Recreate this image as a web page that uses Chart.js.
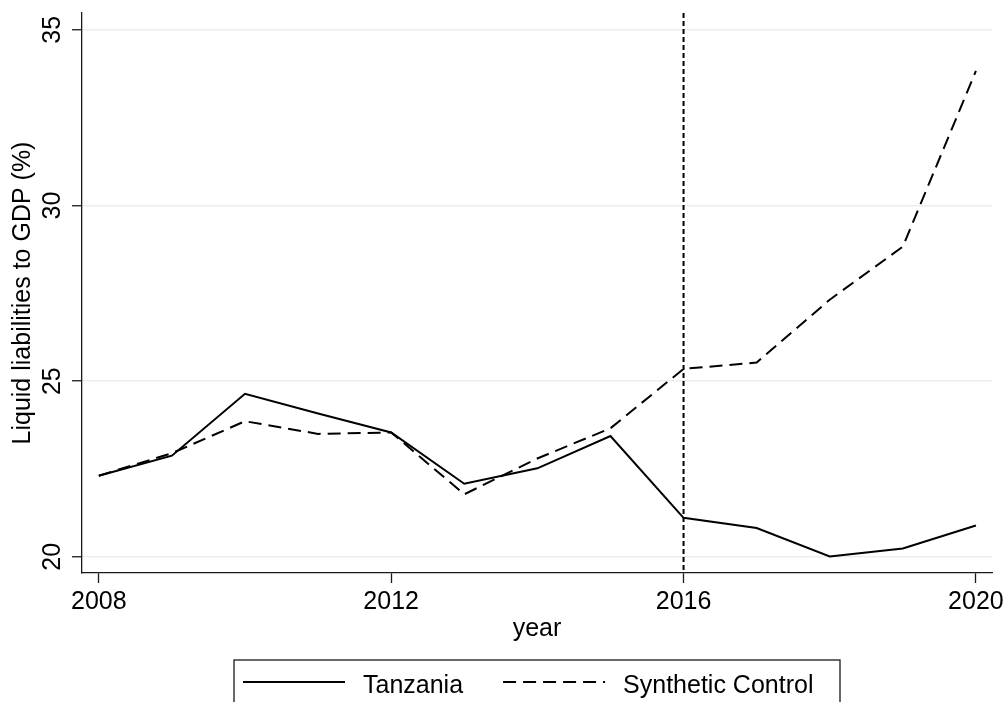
<!DOCTYPE html>
<html>
  <head>
    <script src="https://cdn.jsdelivr.net/npm/chart.js@4"></script>
    <style>
      html, body { margin: 0; padding: 0; background: #fff; }
      #wrap { width: 1006px; height: 702px; }
    </style>
  </head>

  <body>
    <div id="wrap"><canvas id="canvas"></canvas></div>
    <script>
      // values
      const years = [2008, 2009, 2010, 2011, 2012, 2013, 2014, 2015, 2016, 2017, 2018, 2019, 2020];
      const tanzania = [22.31, 22.88, 24.64, 24.08, 23.54, 22.08, 22.52, 23.44, 21.11, 20.82, 20.01, 20.24, 20.89];
      const synthetic = [22.31, 22.95, 23.86, 23.50, 23.54, 21.78, 22.80, 23.66, 25.35, 25.53, 27.32, 28.83, 33.83];
      const xTicks = [2008, 2012, 2016, 2020];
      const yTicks = [20, 25, 30, 35];
      const treatYear = 2016;

      const FONT = "'Liberation Sans', Arial, Helvetica, sans-serif";
      const INK = '#1a1a1a';
      Chart.defaults.font.family = FONT;
      Chart.defaults.font.size = 25;
      Chart.defaults.color = '#000';

      // dotted vertical line at the treatment year
      const treatLine = {
        id: 'treatLine',
        beforeDatasetsDraw(chart) {
          const { ctx, chartArea } = chart;
          const x = chart.scales.x.getPixelForValue(treatYear);
          ctx.save();
          ctx.strokeStyle = '#000';
          ctx.lineWidth = 2;
          ctx.setLineDash([5, 3]);
          ctx.beginPath();
          ctx.moveTo(x, chartArea.top);
          ctx.lineTo(x, chartArea.bottom);
          ctx.stroke();
          ctx.restore();
        },
      };

      // Stata-like boxed legend under the axis title
      const boxLegend = {
        id: 'boxLegend',
        afterDraw(chart) {
          const { ctx, chartArea } = chart;
          const cx = (chartArea.left + chartArea.right) / 2;
          const left = cx - 303;
          const top = chart.height - 42;
          ctx.save();
          ctx.strokeStyle = INK;
          ctx.lineWidth = 1.3;
          ctx.setLineDash([]);
          ctx.strokeRect(left, top, 606, 60);

          ctx.font = '25px ' + FONT;
          ctx.fillStyle = '#000';
          ctx.textBaseline = 'alphabetic';
          let x = left + 9;
          const ly = top + 22;
          chart.data.datasets.forEach((ds) => {
            ctx.strokeStyle = '#000';
            ctx.lineWidth = 2;
            ctx.setLineDash(ds.borderDash || []);
            ctx.beginPath();
            ctx.moveTo(x, ly);
            ctx.lineTo(x + 102, ly);
            ctx.stroke();
            x += 102 + 18;
            ctx.fillText(ds.label, x, top + 33);
            x += ctx.measureText(ds.label).width + 40;
          });
          ctx.restore();
        },
      };

      new Chart(document.getElementById('canvas'), {
        type: 'line',
        data: {
          datasets: [
            {
              label: 'Tanzania',
              data: years.map((yr, i) => ({ x: yr, y: tanzania[i] })),
              borderColor: '#000',
              borderWidth: 2,
              pointRadius: 0,
              tension: 0,
            },
            {
              label: 'Synthetic Control',
              data: years.map((yr, i) => ({ x: yr, y: synthetic[i] })),
              borderColor: '#000',
              borderWidth: 2,
              borderDash: [13, 7],
              pointRadius: 0,
              tension: 0,
            },
          ],
        },
        options: {
          responsive: true,
          maintainAspectRatio: false,
          animation: false,
          layout: { padding: { left: 0, right: 14, top: 13, bottom: 58 } },
          plugins: {
            legend: { display: false },
            tooltip: { enabled: false },
          },
          scales: {
            x: {
              type: 'linear',
              min: 2007.77,
              max: 2020.22,
              afterBuildTicks: (s) => { s.ticks = xTicks.map((v) => ({ value: v })); },
              afterFit: (s) => { s.height = 71; s.paddingLeft = 0; s.paddingRight = 0; },
              grid: { drawOnChartArea: false, tickLength: 10, tickColor: INK, tickWidth: 1.3 },
              border: { color: INK, width: 1.3 },
              ticks: { padding: 4, maxRotation: 0, autoSkip: false, callback: (v) => String(v) },
              title: { display: true, text: 'year', padding: 0 },
            },
            y: {
              min: 19.54,
              max: 35.48,
              afterBuildTicks: (s) => { s.ticks = yTicks.map((v) => ({ value: v })); },
              afterFit: (s) => { s.width = 82; s.paddingTop = 0; s.paddingBottom = 0; },
              grid: { color: '#e6eff2', lineWidth: 1.5, tickLength: 10, tickColor: INK, tickWidth: 1.3 },
              border: { color: INK, width: 1.3 },
              ticks: { minRotation: 90, maxRotation: 90, crossAlign: 'center', padding: 5, autoSkip: false, callback: (v) => String(v) },
              title: { display: true, text: 'Liquid liabilities to GDP (%)', padding: { top: 8, bottom: 0 } },
            },
          },
        },
        plugins: [treatLine, boxLegend],
      });
    </script>
  </body>
</html>
